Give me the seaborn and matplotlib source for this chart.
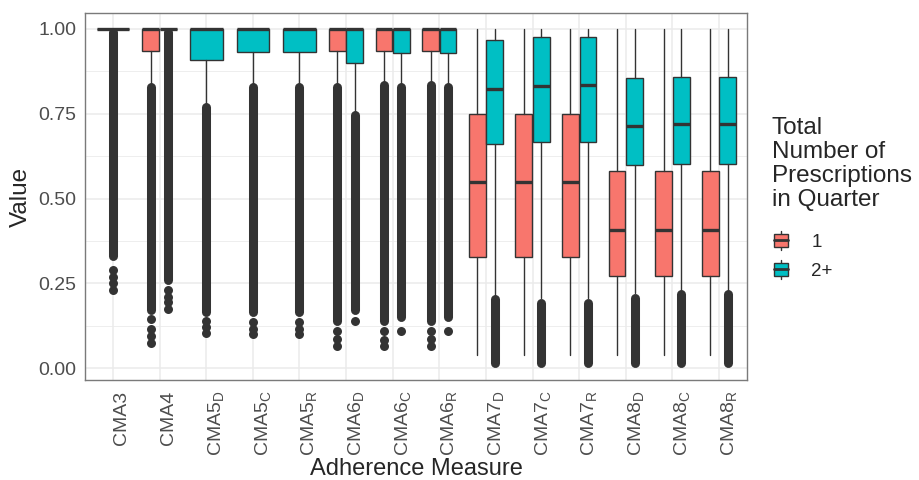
import numpy as np
import seaborn as sns
import matplotlib.pyplot as plt
from matplotlib.patches import Rectangle, Patch
from matplotlib.lines import Line2D
from matplotlib.legend_handler import HandlerBase

nan = np.nan

measures = ["CMA3", "CMA4", "CMA5$_D$", "CMA5$_C$", "CMA5$_R$", "CMA6$_D$", "CMA6$_C$",
            "CMA6$_R$", "CMA7$_D$", "CMA7$_C$", "CMA7$_R$", "CMA8$_D$", "CMA8$_C$", "CMA8$_R$"]
groups = ["1", "2+"]
colors = ["#F8766D", "#00BFC4"]

# group "1" box stats (nan = no box)
q1_one = [nan, 0.935, nan, nan, nan, 0.935, 0.935, 0.935, 0.327, 0.327, 0.327, 0.272, 0.272, 0.272]
med_one = [nan, 1.0, nan, nan, nan, 1.0, 1.0, 1.0, 0.549, 0.549, 0.549, 0.406, 0.406, 0.406]
q3_one = [nan, 1.0, nan, nan, nan, 1.0, 1.0, 1.0, 0.749, 0.749, 0.749, 0.582, 0.582, 0.582]
lo_one = [nan, 0.836, nan, nan, nan, 0.836, 0.843, 0.843, 0.04, 0.04, 0.04, 0.04, 0.04, 0.04]
hi_one = [nan, 1.0, nan, nan, nan, 1.0, 1.0, 1.0, 1.0, 1.0, 1.0, 1.0, 1.0, 1.0]
# outliers: dense run (top, bottom) + a few loose points
out_top_one = [nan, 0.83, nan, nan, nan, 0.83, 0.835, 0.835, nan, nan, nan, nan, nan, nan]
out_bot_one = [nan, 0.17, nan, nan, nan, 0.14, 0.14, 0.14, nan, nan, nan, nan, nan, nan]
out_pts_one = [[], [0.145, 0.115, 0.095, 0.075], [], [], [], [0.11, 0.085, 0.065],
               [0.108, 0.084, 0.064], [0.11, 0.085, 0.065], [], [], [], [], [], []]

# group "2+"
q1_two = [1.0, 1.0, 0.907, 0.931, 0.931, 0.90, 0.929, 0.929, 0.662, 0.666, 0.666, 0.600, 0.603, 0.603]
med_two = [1.0, 1.0, 1.0, 1.0, 1.0, 1.0, 1.0, 1.0, 0.823, 0.833, 0.836, 0.714, 0.721, 0.721]
q3_two = [1.0, 1.0, 1.0, 1.0, 1.0, 1.0, 1.0, 1.0, 0.967, 0.976, 0.976, 0.854, 0.857, 0.857]
lo_two = [1.0, 1.0, 0.777, 0.836, 0.836, 0.752, 0.833, 0.833, 0.216, 0.206, 0.206, 0.221, 0.229, 0.229]
hi_two = [1.0] * 14
out_top_two = [0.99, 0.99, 0.77, 0.83, 0.83, 0.745, 0.83, 0.83, 0.203, 0.193, 0.193, 0.208, 0.218, 0.218]
out_bot_two = [0.33, 0.26, 0.165, 0.165, 0.165, 0.17, 0.15, 0.15, 0.015, 0.015, 0.015, 0.015, 0.015, 0.015]
out_pts_two = [[0.29, 0.27, 0.25, 0.23], [0.23, 0.21, 0.195, 0.175], [0.14, 0.12, 0.105],
               [0.135, 0.115, 0.10], [0.135, 0.115, 0.10], [0.14], [0.108], [0.108],
               [], [], [], [], [], []]

sns.set_style("white")
plt.rcParams["font.family"] = ["Liberation Sans", "DejaVu Sans"]
plt.rcParams["mathtext.fontset"] = "custom"
plt.rcParams["mathtext.rm"] = "Liberation Sans"
plt.rcParams["mathtext.default"] = "regular"

edge = "#333333"
grid_col = "#EBEBEB"

fig = plt.figure(figsize=(9.19, 4.8), dpi=100)
ax = fig.add_axes([85 / 919, 1 - 380 / 480, (747 - 85) / 919, (380 - 13) / 480])

stats_by_group = [
    (q1_one, med_one, q3_one, lo_one, hi_one, out_top_one, out_bot_one, out_pts_one),
    (q1_two, med_two, q3_two, lo_two, hi_two, out_top_two, out_bot_two, out_pts_two),
]
present = [~np.isnan(np.array(q1_one)), ~np.isnan(np.array(q1_two))]

pts_x, pts_y = [], []
for g, (q1, med, q3, lo, hi, otop, obot, opts) in enumerate(stats_by_group):
    for i in range(len(measures)):
        if not present[g][i]:
            continue
        both = present[0][i] and present[1][i]
        pos = i + (g - 0.5) * 0.375 if both else i
        width = 0.36 if both else 0.7

        # outliers: dense run drawn as a thick round-capped stroke
        if not np.isnan(otop[i]):
            ax.vlines(pos, obot[i], otop[i], colors=edge, linewidth=6.5,
                      capstyle="round", zorder=2)
        for v in opts[i]:
            pts_x.append(pos)
            pts_y.append(v)

        st = [dict(med=med[i], q1=q1[i], q3=q3[i], whislo=lo[i], whishi=hi[i], fliers=[])]
        ax.bxp(st, positions=[pos], widths=[width], patch_artist=True,
               showcaps=False, showfliers=False, manage_ticks=False, zorder=3,
               boxprops=dict(facecolor=colors[g], edgecolor=edge, linewidth=1.0),
               medianprops=dict(color=edge, linewidth=2.4, solid_capstyle="butt"),
               whiskerprops=dict(color=edge, linewidth=1.0))

sns.scatterplot(x=pts_x, y=pts_y, ax=ax, color=edge, s=42, linewidth=0,
                legend=False, zorder=2)

ax.set_xlim(-0.6, 13.6)
ax.set_ylim(-0.035, 1.047)
ax.set_xticks(range(len(measures)))
ax.set_xticklabels(measures, rotation=90, ha="left", va="top")
ax.set_yticks([0, 0.25, 0.5, 0.75, 1.0])
ax.set_yticklabels(["0.00", "0.25", "0.50", "0.75", "1.00"])
ax.set_yticks([0.125, 0.375, 0.625, 0.875], minor=True)
ax.grid(True, which="major", color=grid_col, linewidth=1.1, zorder=0)
ax.grid(True, which="minor", axis="y", color=grid_col, linewidth=0.6, zorder=0)
ax.set_axisbelow(True)
ax.tick_params(axis="both", which="major", length=4.5, width=1, color=edge,
               labelsize=14, labelcolor="#4D4D4D", pad=1.5)
ax.tick_params(axis="y", which="minor", length=0)
ax.tick_params(axis="x", pad=3)
for s in ax.spines.values():
    s.set_color("#7a7a7a")
    s.set_linewidth(1.0)

ax.set_xlabel("Adherence Measure", fontsize=17, labelpad=1.5)
ax.set_ylabel("Value", fontsize=17.5, labelpad=5)


class BoxKey(HandlerBase):
    def create_artists(self, legend, handle, xdescent, ydescent, width, height,
                       fontsize, trans):
        x0, y0 = -xdescent, -ydescent
        xm = x0 + width / 2
        stub = Line2D([xm, xm], [y0 - 0.12 * height, y0 + 1.12 * height],
                      color=edge, lw=1, transform=trans)
        box = Rectangle((x0 + 0.13 * width, y0 + 0.05 * height), 0.74 * width, 0.9 * height,
                        facecolor=handle.get_facecolor(), edgecolor=edge, lw=1,
                        transform=trans)
        mid = Line2D([x0 + 0.13 * width, x0 + 0.87 * width], [y0 + height / 2] * 2,
                     color=edge, lw=2, transform=trans)
        return [stub, box, mid]


handles = [Patch(facecolor=c) for c in colors]
leg = fig.legend(handles, groups, loc="upper left", bbox_to_anchor=(772 / 919, 1 - 117 / 480),
                 frameon=False, title="Total\nNumber of\nPrescriptions\nin Quarter",
                 alignment="left", borderpad=0, borderaxespad=0, handlelength=1.0,
                 handleheight=0.85, handletextpad=1.1, labelspacing=0.6, fontsize=13.5,
                 title_fontsize=17.5, handler_map={Patch: BoxKey()})
leg.get_title().set_linespacing(1.12)
# extra room between the legend title and the keys
leg._legend_box.sep = 0.6 * 13.5 + 7.5

fig.savefig("out.png", dpi=100)
